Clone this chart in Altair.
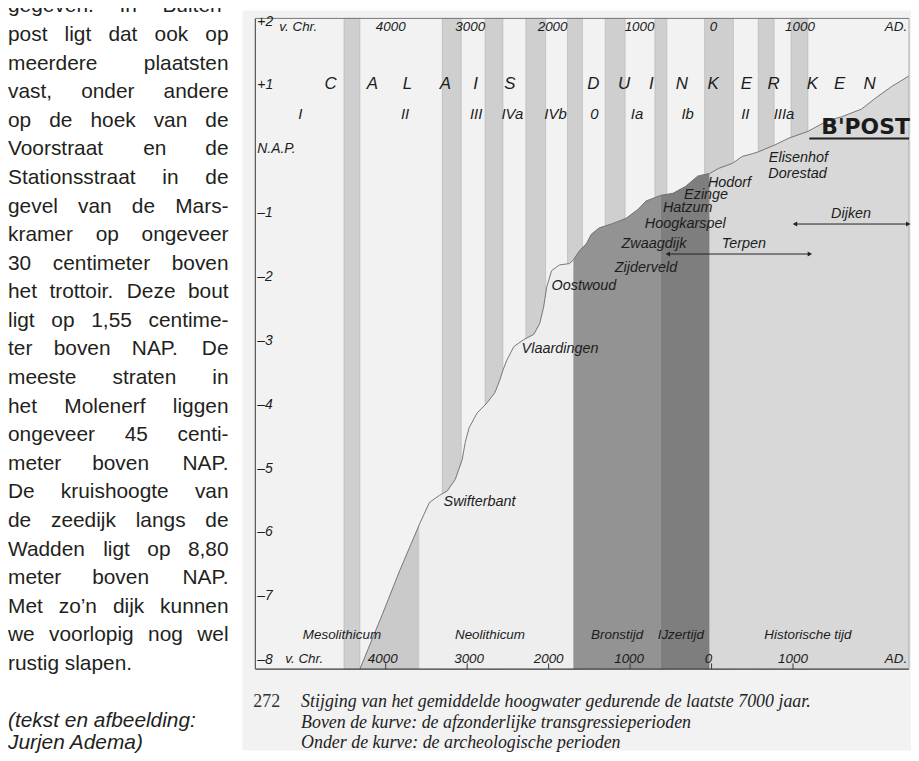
import altair as alt
import pandas as pd

# ---------------- data ----------------
# curve of mean high water: year (negative = v. Chr.), level in m relative to N.A.P.
curve_year = [-4317, -4037, -3829, -3585,
              -3585, -3463, -3341, -3244, -3146, -3061, -3024, -2976, -2878, -2756, -2659, -2598,
              -2561, -2512, -2427, -2305, -2183, -2110, -2061, -2024, -1963, -1866, -1744, -1695,
              -1695, -1622, -1537, -1476, -1378, -1207, -1049, -902, -805, -683, -622,
              -622, -476, -317, -171, -73, -24,
              -24, 85, 256, 378, 500, 573, 780, 939, 1183, 1268, 1427, 1598, 1841, 2000, 2207, 2424]
curve_level = [-8.14, -7.27, -6.60, -5.87,
               -5.87, -5.53, -5.42, -5.35, -5.17, -4.86, -4.59, -4.36, -4.13, -3.97, -3.81, -3.61,
               -3.46, -3.30, -3.09, -2.98, -2.90, -2.73, -2.47, -2.16, -1.90, -1.81, -1.79, -1.73,
               -1.73, -1.59, -1.48, -1.33, -1.23, -1.16, -1.08, -0.94, -0.81, -0.75, -0.72,
               -0.72, -0.69, -0.58, -0.42, -0.39, -0.38,
               -0.38, -0.30, -0.22, -0.11, -0.07, -0.04, 0.07, 0.17, 0.28, 0.34, 0.45, 0.51, 0.63, 0.79, 0.98, 1.15]
curve_period = (["Mesolithicum"] * 4 + ["Neolithicum"] * 24 + ["Bronstijd"] * 11
                + ["IJzertijd"] * 6 + ["Historische tijd"] * 16)

periods = ["Mesolithicum", "Neolithicum", "Bronstijd", "IJzertijd", "Historische tijd"]
period_colors = ["#cacaca", "#eeeeee", "#939393", "#7e7e7e", "#d8d8d8"]
period_label_year = [-4537, -2720, -1159, -378, 1183]
period_label_level = -7.6

# transgression phases (grey bands above the curve)
band_start = [-4512, -3305, -2780, -2280, -1768, -1305, -695, -85, 573, 976]
band_end = [-4317, -3073, -2561, -2037, -1585, -1061, -549, 268, 768, 1183]

name_letters = ["C", "A", "L", "A", "I", "S", "D", "U", "I", "N", "K", "E", "R", "K", "E", "N"]
name_letter_year = [-4677, -4165, -3732, -3268, -2896, -2476, -1451, -1073, -738, -366, 18, 427,
                    762, 1238, 1573, 1939]
name_level = 1.03

phase_labels = ["I", "II", "III", "IVa", "IVb", "0", "Ia", "Ib", "II", "IIIa"]
phase_year = [-5049, -3762, -2890, -2445, -1915, -1439, -915, -293, 415, 890]
phase_level = 0.555

sites = ["Swifterbant", "Vlaardingen", "Oostwoud", "Zijderveld", "Zwaagdijk", "Hoogkarspel",
         "Hatzum", "Ezinge", "Hodorf", "Elisenhof", "Dorestad", "Terpen", "Dijken"]
site_year = [-2848, -1860, -1567, -805, -707, -323, -293, -67, 220, 1067, 1055, 396, 1713]
site_level = [-5.53, -3.13, -2.14, -1.86, -1.48, -1.17, -0.92, -0.72, -0.53, -0.14, -0.39, -1.48, -1.02]

arrow_from = [-537, 1024]
arrow_to = [1207, 2415]
arrow_level = [-1.64, -1.17]

top_labels = ["v. Chr.", "4000", "3000", "2000", "1000", "0", "1000"]
top_label_year = [-5073, -3939, -2963, -1951, -884, 24, 1085]
top_label_level = 1.91
bottom_labels = ["v. Chr.", "4000", "3000", "2000", "1000", "0", "1000"]
bottom_label_year = [-5000, -4037, -2976, -2000, -1012, -37, 1000]
bottom_label_level = -7.98
ad_year = 2402
tick_years = [-4000, -3000, -2000, -1000, 0, 1000]
y_tick_levels = [2, 1, 0, -1, -2, -3, -4, -5, -6, -7, -8]
y_tick_labels = ["+2", "+1", "N.A.P.", "–1", "–2", "–3", "–4", "–5", "–6", "–7", "–8"]

stamp_text = "B'POST"
stamp_year = 1890
stamp_level = 0.35
stamp_line = [1200, 2424]
stamp_line_level = 0.17

left_lines = [
    "gegeven. In Buiten-",
    "post ligt dat ook op",
    "meerdere plaatsten",
    "vast, onder andere",
    "op de hoek van de",
    "Voorstraat en de",
    "Stationsstraat in de",
    "gevel van de Mars-",
    "kramer op ongeveer",
    "30 centimeter boven",
    "het trottoir. Deze bout",
    "ligt op 1,55 centime-",
    "ter boven NAP. De",
    "meeste straten in",
    "het Molenerf liggen",
    "ongeveer 45 centi-",
    "meter boven NAP.",
    "De kruishoogte van",
    "de zeedijk langs de",
    "Wadden ligt op 8,80",
    "meter boven NAP.",
    "Met zo’n dijk kunnen",
    "we voorlopig nog wel",
    "rustig slapen.",
]
credit_lines = ["(tekst en afbeelding:", "Jurjen Adema)"]
caption_number = "272"
caption_lines = [
    "Stijging van het gemiddelde hoogwater gedurende de laatste 7000 jaar.",
    "Boven de kurve: de afzonderlijke transgressieperioden",
    "Onder de kurve: de archeologische perioden",
]

# ---------------- layout helpers ----------------
TOP, BOT = 2.05, -8.14
XMIN, XMAX = -5600, 2424
W, H = 658, 655
PAD_L, PAD_T = 249, 8
xs = alt.Scale(domain=[XMIN, XMAX], nice=False, zero=False)
ys = alt.Scale(domain=[BOT, TOP], nice=False, zero=False)
INK = "#1c1c1c"
SANS = "Liberation Sans"

one = alt.Data(values=[{"a": 1}])


def X(f):
    return alt.X(f, type="quantitative", scale=xs, axis=None)


def Y(f):
    return alt.Y(f, type="quantitative", scale=ys, axis=None)


def tlayer(df, **mk):
    return alt.Chart(df).mark_text(**mk).encode(x=X("x"), y=Y("y"), text="t:N")


def plabel(df, **mk):
    return alt.Chart(df).mark_text(**mk).encode(
        x=alt.X("px:Q", scale=None, axis=None), y=alt.Y("py:Q", scale=None, axis=None), text="t:N")


# Arial / Liberation Sans advance widths (per 1000 em) for justified text
AW = {'a': 556, 'b': 556, 'c': 500, 'd': 556, 'e': 556, 'f': 278, 'g': 556, 'h': 556, 'i': 222,
      'j': 222, 'k': 500, 'l': 222, 'm': 833, 'n': 556, 'o': 556, 'p': 556, 'q': 556, 'r': 333,
      's': 500, 't': 278, 'u': 556, 'v': 500, 'w': 722, 'x': 500, 'y': 500, 'z': 500,
      'A': 667, 'B': 667, 'D': 722, 'I': 278, 'M': 833, 'N': 722, 'P': 667, 'S': 667, 'V': 667,
      'W': 944, '.': 278, ',': 278, '-': 333, '’': 222, '(': 333, ')': 333, ':': 278, ' ': 278}


def tw(s, size):
    return sum(AW.get(c, 556) for c in s) * size / 1000.0


FS = 21
LEFT, RIGHT = 8, 230
rows_l, rows_r = [], []
for i, line in enumerate(left_lines):
    base = 355.3 + (i - 12) * 28.78 - 16 + 8 - PAD_T
    words = line.split(" ")
    if i == len(left_lines) - 1:
        rows_l.append({"px": LEFT - 8 - PAD_L, "py": base, "t": line})
        continue
    widths = [tw(w, FS) for w in words]
    gap = (RIGHT - LEFT - sum(widths)) / (len(words) - 1)
    xpos = LEFT
    for j, (w, wd) in enumerate(zip(words, widths)):
        if j == len(words) - 1:
            rows_r.append({"px": RIGHT - 8 - PAD_L, "py": base, "t": w})
        else:
            rows_l.append({"px": xpos - 8 - PAD_L, "py": base, "t": w})
        xpos += wd + gap

credit_rows = [{"px": LEFT - 8 - PAD_L, "py": 729 - 16, "t": credit_lines[0]},
               {"px": LEFT - 8 - PAD_L, "py": 751 - 16, "t": credit_lines[1]}]
cap_rows = [{"px": 303 - 8 - PAD_L, "py": b - 16, "t": t}
            for b, t in zip([709, 730, 750], caption_lines)]
num_rows = [{"px": 255 - 8 - PAD_L, "py": 709 - 16, "t": caption_number}]

# ---------------- layers ----------------
paper = alt.Chart(one).mark_rect(color="#f2f2f2").encode(
    x=alt.value(244 - 8 - PAD_L), x2=alt.value(917 - 8 - PAD_L),
    y=alt.value(8 - 8 - PAD_T), y2=alt.value(753 - 8 - PAD_T))

bands = alt.Chart(pd.DataFrame({"s": band_start, "e": band_end})).mark_rect(
    color="#cfcfcf", stroke="#b2b2b2", strokeWidth=0.6).encode(
    x=X("s"), x2="e", y=alt.YDatum(TOP, scale=ys, axis=None), y2=alt.Y2Datum(BOT))

curve_df = pd.DataFrame({"year": curve_year, "level": curve_level, "period": curve_period,
                         "idx": list(range(len(curve_year)))})

areas = alt.Chart(curve_df).mark_area(orient="vertical", strokeWidth=0).encode(
    x=X("year"),
    y=alt.Y("level:Q", scale=ys, stack=None, axis=None),
    y2=alt.Y2Datum(BOT),
    color=alt.Color("period:N", scale=alt.Scale(domain=periods, range=period_colors), legend=None),
)

line = alt.Chart(curve_df).mark_line(color="#6a6a6a", strokeWidth=0.9).encode(
    x=X("year"), y=Y("level"), order="idx:Q")

frame_top = alt.Chart(one).mark_rule(color="#777", strokeWidth=1).encode(
    y=alt.YDatum(TOP, scale=ys, axis=None))
frame_bot = alt.Chart(one).mark_rule(color="#3a3a3a", strokeWidth=1.3).encode(
    y=alt.YDatum(BOT, scale=ys, axis=None))
frame_right = alt.Chart(one).mark_rule(color="#a8a8a8", strokeWidth=1).encode(
    x=alt.XDatum(XMAX, scale=xs, axis=None))
frame_left = alt.Chart(one).mark_rule(color="#555", strokeWidth=1.2).encode(
    x=alt.XDatum(XMIN, scale=xs, axis=None))

ticks = alt.Chart(pd.DataFrame({"x": tick_years})).mark_rule(color="#3a3a3a", strokeWidth=1).encode(
    x=X("x"), y=alt.YDatum(BOT, scale=ys, axis=None), y2=alt.Y2Datum(BOT + 0.09))

it = dict(font=SANS, fontStyle="italic", color=INK, baseline="middle")

ylab = alt.Chart(pd.DataFrame({"y": y_tick_levels, "t": y_tick_labels})).mark_text(
    align="left", dx=2, fontSize=14, **it).encode(
    x=alt.XDatum(XMIN, scale=xs, axis=None), y=Y("y"), text="t:N")

name_txt = tlayer(pd.DataFrame({"x": name_letter_year, "y": [name_level] * len(name_letters), "t": name_letters}),
                  fontSize=17, align="center", **it)
phase_txt = tlayer(pd.DataFrame({"x": phase_year, "y": [phase_level] * len(phase_labels), "t": phase_labels}),
                   fontSize=15, align="center", **it)
site_txt = tlayer(pd.DataFrame({"x": site_year, "y": site_level, "t": sites}),
                  fontSize=14.5, align="center", **it)
period_txt = tlayer(pd.DataFrame({"x": period_label_year, "y": [period_label_level] * 5, "t": periods}),
                    fontSize=13.5, align="center", **it)
top_txt = tlayer(pd.DataFrame({"x": top_label_year, "y": [top_label_level] * len(top_labels), "t": top_labels}),
                 fontSize=13.5, align="center", **it)
bot_txt = tlayer(pd.DataFrame({"x": bottom_label_year, "y": [bottom_label_level] * len(bottom_labels), "t": bottom_labels}),
                 fontSize=13.5, align="center", **it)
ad_txt = tlayer(pd.DataFrame({"x": [ad_year, ad_year], "y": [top_label_level, bottom_label_level], "t": ["AD.", "AD."]}),
                fontSize=13.5, align="right", **it)

arrows_df = pd.DataFrame({"x1": arrow_from, "x2": arrow_to, "y": arrow_level})
arrow_line = alt.Chart(arrows_df).mark_rule(color="#222", strokeWidth=1).encode(x=X("x1"), x2="x2", y=Y("y"))
arrow_l = alt.Chart(arrows_df).mark_point(shape="triangle-left", filled=True, size=26, color="#222", opacity=1).encode(
    x=X("x1"), y=Y("y"))
arrow_r = alt.Chart(arrows_df).mark_point(shape="triangle-right", filled=True, size=26, color="#222", opacity=1).encode(
    x=X("x2"), y=Y("y"))

stamp = tlayer(pd.DataFrame({"x": [stamp_year], "y": [stamp_level], "t": [stamp_text]}),
               font="DejaVu Sans", fontWeight="bold", fontSize=22, align="center", baseline="middle", color="#1a1a1a")
stamp_rule = alt.Chart(pd.DataFrame({"x1": [stamp_line[0]], "x2": [stamp_line[1]], "y": [stamp_line_level]})).mark_rule(
    color="#222", strokeWidth=2).encode(x=X("x1"), x2="x2", y=Y("y"))

body = dict(font=SANS, fontSize=FS, color="#231f20", baseline="alphabetic")
left_l = plabel(pd.DataFrame(rows_l), align="left", **body)
left_r = plabel(pd.DataFrame(rows_r), align="right", **body)
credit = plabel(pd.DataFrame(credit_rows), align="left", fontStyle="italic", **body)
cap = plabel(pd.DataFrame(cap_rows), align="left", font="Liberation Serif", fontStyle="italic",
             fontSize=18, color="#222", baseline="alphabetic")
capnum = plabel(pd.DataFrame(num_rows), align="left", font="Liberation Serif",
                fontSize=18, color="#333", baseline="alphabetic")

chart = alt.layer(
    paper, bands, areas, line, frame_top, frame_bot, frame_right, frame_left, ticks, ylab,
    name_txt, phase_txt, site_txt, period_txt, top_txt, bot_txt, ad_txt,
    arrow_line, arrow_l, arrow_r, stamp, stamp_rule,
    left_l, left_r, credit, cap, capnum,
).properties(
    width=W, height=H,
    autosize=alt.AutoSizeParams(type="none"),
    padding={"left": PAD_L, "top": PAD_T, "right": 2, "bottom": 82},
    background="white",
).configure_view(strokeWidth=0)

chart.save("out.html", embed_options={"renderer": "svg", "actions": False})
